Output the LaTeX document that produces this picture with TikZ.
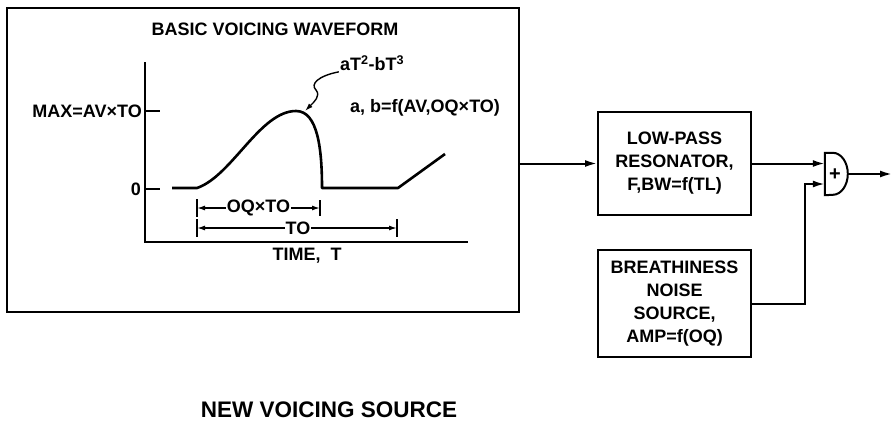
\documentclass[tikz,border=0pt]{standalone}
\usepackage{fontspec}
\setmainfont{Liberation Sans}
\usetikzlibrary{arrows.meta, positioning, calc}

\begin{document}
\begin{tikzpicture}[x=1pt, y=-1pt,
    box/.style={rectangle, draw, line width=2pt, minimum width=153pt,
                inner sep=0pt, font=\fontsize{18}{23}\selectfont\bfseries, align=center},
    lbl/.style={font=\fontsize{18}{19}\selectfont\bfseries, inner sep=1pt},
    arr/.style={-{Latex[length=12pt, width=7pt]}, line width=2pt},
    dim/.style={{Latex[length=8pt, width=5pt]}-{Latex[length=8pt, width=5pt]}, line width=1.4pt},
    wave/.style={line width=2.6pt, line join=round}
  ]
    \useasboundingbox (0,0) rectangle (893,423);

    % waveform panel
    \node[box, minimum width=512pt, minimum height=304pt] (panel) at (263,160) {};
    \node[lbl] (title) at (275,29) {BASIC VOICING WAVEFORM};

    \draw[line width=2pt] (145,62) -- (145,242) -- (468,242);
    \draw[line width=2pt] (145,111) -- (160,111);
    \draw[line width=2pt] (145,189) -- (160,189);
    \node[lbl, anchor=east] (maxlbl) at (143,111) {MAX=AV×TO};
    \node[lbl, anchor=east] (zero) at (142,189) {0};

    \draw[wave] (172,188) -- (197,188)
      .. controls (232,176) and (260,111) .. (296,111)
      .. controls (318,111) and (322,150) .. (322,188)
      -- (398,188) -- (445,154);

    \node[lbl] (poly) at (372,63) {aT\textsuperscript{2}-bT\textsuperscript{3}};
    \draw[-{Latex[length=8pt, width=5pt]}, line width=1.4pt]
      (poly.south west) .. controls (318,76) and (310,84) .. (316,90)
      .. controls (321,96) and (314,102) .. (305,111);
    \node[lbl, anchor=west] (coef) at (349,108) {a, b=f(AV,OQ×TO)};

    \draw[line width=1.6pt] (197,199) -- (197,217) (320,200) -- (320,216);
    \draw[line width=1.6pt] (197,219) -- (197,237) (397,219) -- (397,237);
    \draw[dim] (197,208) -- (320,208)
      node[lbl, fill=white, pos=0.5] (oq) {OQ×TO};
    \draw[dim] (197,228) -- (397,228)
      node[lbl, fill=white, pos=0.505] (period) {TO};
    \node[lbl] (time) at (307,256) {TIME,\ \ T};

    % filter, noise and sum
    \node[box, minimum height=103pt] (lp) at (674.5,163.5)
      {LOW-PASS\\RESONATOR,\\F,BW=f(TL)};
    \node[box, minimum height=107pt] (noise) at (674.5,303.5)
      {BREATHINESS\\NOISE\\SOURCE,\\AMP=f(OQ)};
    \node[minimum width=23pt, minimum height=42pt, inner sep=0pt] (sum) at (836.5,174) {};
    \node[font=\fontsize{20}{20}\selectfont\bfseries, inner sep=0pt] (plus) at (835,175) {+};
    \draw[line width=2pt] (sum.south west) -- (sum.north west) -- ++(8,0)
      arc[start angle=90, end angle=-90, x radius=15pt, y radius=21pt] -- cycle;
    \coordinate (join) at (805,184);
    \coordinate (output) at (892,174);

    \draw[arr] (lp.west -| panel.east) -- (lp.west);
    \draw[arr] (lp.east) -- (lp.east -| sum.west);
    \draw[arr] (noise.east) -| (join) -- (join -| sum.west);
    \draw[arr] (sum.east) -- (output);

    \node[font=\fontsize{22.5}{24}\selectfont\bfseries] (caption) at (329,410) {NEW VOICING SOURCE};
  \end{tikzpicture}
\end{document}
